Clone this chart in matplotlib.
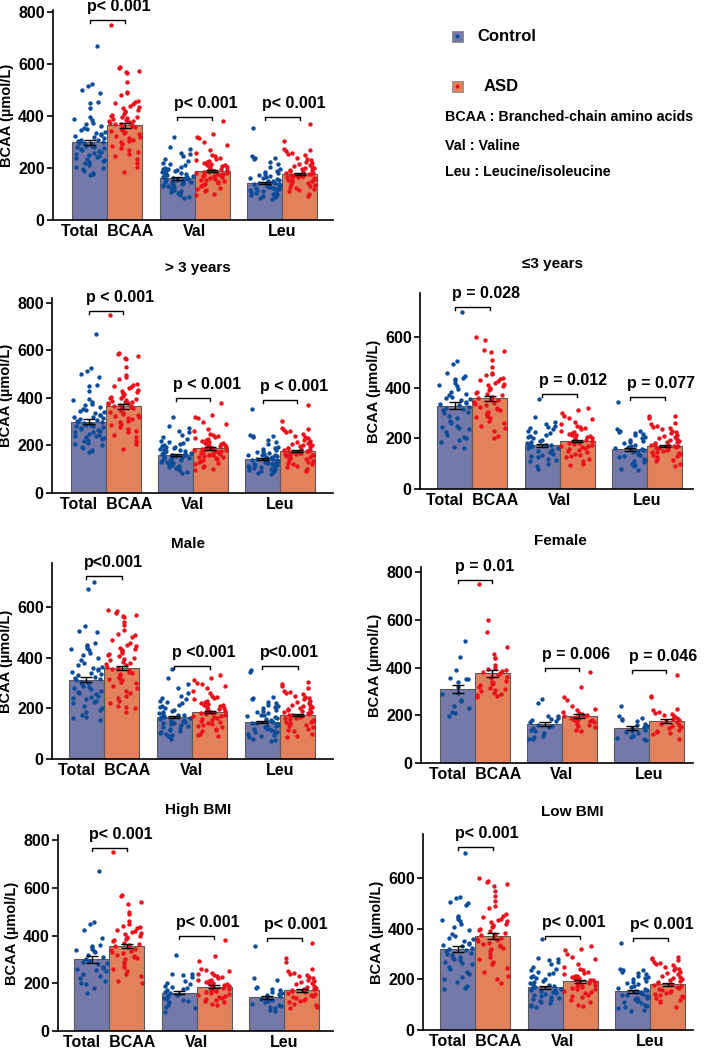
import math
import matplotlib
matplotlib.use('Agg')
import matplotlib.pyplot as plt
from matplotlib.patches import Rectangle, Circle

plt.rcParams['font.family'] = ['Liberation Sans', 'DejaVu Sans']
plt.rcParams['font.weight'] = 'bold'

W, H = 708, 1055

# ---------------- data ----------------
categories = ['Total  BCAA', 'Val', 'Leu']
groups = ['Control', 'ASD']

# overall (also shown as "> 3 years")
overall_ctrl_mean = [300, 160, 142]
overall_asd_mean = [365, 188, 177]
overall_ctrl_sem = [10, 5, 5]
overall_asd_sem = [10, 5, 5]
overall_ctrl_total = [670, 525, 515, 500, 490, 455, 452, 430, 395, 390, 385, 375, 370, 362, 355, 350, 345, 340,
                      335, 330, 328, 322, 318, 315, 310, 308, 305, 300, 298, 295, 292, 290, 287, 285, 282, 280,
                      276, 272, 268, 265, 262, 258, 255, 250, 246, 242, 238, 234, 230, 226, 222, 218, 212, 206,
                      200, 195, 188, 182, 176, 172]
overall_asd_total = [750, 590, 585, 575, 570, 565, 530, 495, 490, 480, 460, 455, 450, 445, 440, 435, 430, 425,
                     420, 415, 410, 405, 400, 398, 395, 392, 388, 385, 382, 380, 377, 374, 371, 368, 365, 362,
                     359, 356, 353, 350, 346, 342, 338, 334, 330, 325, 320, 315, 310, 305, 300, 292, 285, 278,
                     270, 262, 255, 245, 235, 220, 205, 185]
overall_ctrl_val = [320, 280, 275, 260, 255, 245, 235, 228, 220, 215, 210, 205, 200, 198, 195, 192, 190, 188,
                    185, 182, 180, 178, 175, 172, 170, 168, 166, 164, 162, 160, 158, 156, 154, 152, 150, 148,
                    146, 144, 142, 140, 138, 135, 132, 130, 127, 124, 120, 116, 112, 108, 104, 100, 95, 90, 85]
overall_asd_val = [380, 330, 320, 315, 300, 290, 270, 260, 250, 245, 240, 235, 230, 226, 222, 218, 215, 212,
                   210, 208, 205, 203, 200, 198, 196, 194, 192, 190, 188, 186, 184, 182, 180, 178, 176, 174,
                   172, 170, 168, 165, 162, 159, 156, 153, 150, 146, 142, 138, 134, 130, 125, 120, 115, 110,
                   100, 95]
overall_ctrl_leu = [355, 245, 240, 240, 235, 225, 215, 205, 195, 190, 185, 180, 176, 172, 168, 165, 162, 160,
                    158, 155, 152, 150, 148, 146, 144, 142, 140, 138, 136, 134, 132, 130, 128, 126, 124, 122,
                    120, 118, 116, 114, 112, 110, 108, 105, 102, 100, 97, 94, 91, 88, 85, 82]
overall_asd_leu = [370, 305, 275, 270, 265, 260, 255, 250, 240, 235, 230, 225, 220, 215, 212, 208, 205, 202,
                   200, 197, 194, 191, 188, 185, 182, 180, 178, 176, 174, 172, 170, 168, 166, 164, 162, 160,
                   158, 155, 152, 149, 146, 143, 140, 136, 132, 128, 124, 120, 115, 110, 100, 92]
overall_pvals = ['p< 0.001', 'p< 0.001', 'p< 0.001']
over3_pvals = ['p < 0.001', 'p < 0.001', 'p < 0.001']

# <= 3 years
young_ctrl_mean = [328, 172, 157]
young_asd_mean = [358, 190, 170]
young_ctrl_sem = [14, 7, 6]
young_asd_sem = [10, 5, 5]
young_ctrl_total = [700, 505, 495, 460, 445, 440, 435, 430, 420, 410, 405, 395, 385, 375, 370, 365, 360, 355,
                    350, 345, 340, 335, 330, 325, 320, 315, 310, 305, 300, 290, 280, 270, 260, 250, 245, 240,
                    235, 225, 215, 205, 200, 195, 185, 165, 160]
young_asd_total = [600, 590, 550, 545, 540, 510, 480, 460, 455, 450, 440, 435, 430, 425, 420, 415, 410, 405,
                   400, 395, 390, 385, 380, 375, 370, 365, 360, 355, 350, 345, 340, 335, 330, 325, 320, 315,
                   310, 305, 300, 295, 290, 285, 280, 270, 260, 250, 240, 230, 210, 200]
young_ctrl_val = [355, 285, 265, 255, 250, 245, 240, 235, 230, 225, 220, 215, 210, 205, 200, 195, 190, 185,
                  180, 178, 175, 172, 170, 168, 165, 162, 160, 155, 150, 145, 140, 135, 130, 125, 120, 115,
                  110, 100, 90, 80]
young_asd_val = [320, 310, 300, 290, 280, 275, 265, 255, 250, 245, 240, 235, 230, 225, 222, 218, 215, 212,
                 210, 206, 202, 200, 198, 195, 192, 190, 188, 185, 182, 180, 177, 174, 171, 168, 165, 162,
                 158, 155, 150, 145, 140, 135, 130, 125, 120, 110, 100, 95]
young_ctrl_leu = [345, 235, 230, 228, 225, 222, 218, 212, 205, 200, 195, 190, 185, 180, 175, 170, 165, 162,
                  158, 155, 152, 150, 145, 140, 135, 130, 125, 120, 115, 110, 105, 100, 95, 90, 80, 75]
young_asd_leu = [290, 288, 280, 260, 255, 250, 245, 240, 235, 230, 225, 220, 215, 210, 205, 200, 197, 194,
                 190, 187, 184, 181, 178, 175, 172, 170, 168, 165, 162, 160, 157, 154, 151, 148, 145, 142,
                 138, 134, 130, 125, 120, 115, 110, 100, 90]
young_pvals = ['p = 0.028', 'p = 0.012', 'p = 0.077']

# Male
male_ctrl_mean = [313, 165, 147]
male_asd_mean = [358, 185, 172]
male_ctrl_sem = [9, 4, 4]
male_asd_sem = [8, 4, 4]
male_ctrl_total = [700, 670, 525, 505, 500, 460, 450, 445, 440, 435, 430, 420, 410, 400, 390, 380, 370, 365,
                   360, 355, 350, 345, 340, 335, 330, 325, 320, 315, 310, 305, 300, 295, 290, 285, 280, 275,
                   270, 265, 260, 255, 250, 245, 240, 235, 230, 225, 220, 210, 200, 195, 185, 175, 165, 160, 155]
male_asd_total = [590, 585, 575, 570, 565, 560, 540, 530, 510, 495, 490, 480, 470, 460, 450, 445, 440, 435,
                  430, 425, 420, 415, 410, 405, 400, 395, 390, 385, 380, 375, 370, 365, 360, 355, 350, 345,
                  340, 335, 330, 325, 320, 315, 310, 305, 300, 290, 280, 270, 260, 250, 240, 230, 220, 210,
                  205, 200, 185]
male_ctrl_val = [355, 320, 295, 280, 260, 250, 240, 235, 230, 225, 220, 215, 210, 205, 200, 195, 190, 185,
                 182, 178, 175, 172, 170, 167, 164, 161, 158, 155, 152, 150, 147, 144, 141, 138, 135, 132,
                 128, 124, 120, 116, 112, 108, 104, 100, 95, 90, 85, 80]
male_asd_val = [330, 320, 310, 300, 295, 290, 280, 270, 260, 250, 245, 240, 235, 230, 225, 222, 218, 215,
                212, 208, 205, 202, 200, 197, 194, 191, 188, 185, 182, 180, 177, 174, 171, 168, 165, 162,
                158, 154, 150, 146, 142, 138, 134, 130, 125, 120, 115, 110, 100, 95, 90]
male_ctrl_leu = [350, 345, 245, 240, 235, 225, 220, 215, 210, 205, 200, 195, 190, 185, 180, 175, 172, 168,
                 165, 162, 158, 155, 152, 150, 147, 144, 141, 138, 135, 132, 129, 126, 123, 120, 117, 114,
                 111, 108, 105, 100, 95, 90, 85, 80, 75, 70]
male_asd_leu = [305, 295, 290, 280, 270, 265, 260, 255, 250, 245, 240, 235, 230, 225, 220, 215, 212, 208,
                205, 202, 199, 196, 193, 190, 187, 184, 181, 178, 175, 172, 169, 166, 163, 160, 157, 154,
                151, 148, 145, 142, 138, 134, 130, 125, 120, 115, 110, 100, 90, 85]
male_pvals = ['p<0.001', 'p <0.001', 'p<0.001']

# Female
female_ctrl_mean = [310, 163, 147]
female_asd_mean = [375, 198, 176]
female_ctrl_sem = [18, 10, 8]
female_asd_sem = [16, 9, 9]
female_ctrl_total = [510, 445, 390, 355, 350, 350, 340, 320, 295, 290, 265, 260, 240, 230, 215, 210, 195]
female_asd_total = [750, 600, 550, 485, 455, 440, 440, 410, 400, 395, 390, 385, 380, 375, 370, 360, 355, 345,
                    340, 335, 330, 325, 320, 315, 310, 305, 300, 295, 290, 285, 280, 275]
female_ctrl_val = [270, 250, 195, 195, 190, 185, 180, 175, 170, 160, 155, 150, 145, 140, 135, 125, 115, 110,
                   100, 100]
female_asd_val = [380, 320, 275, 265, 240, 225, 220, 215, 210, 205, 200, 198, 195, 192, 190, 188, 185, 182,
                  180, 178, 175, 170, 165, 160, 155, 150, 140, 135]
female_ctrl_leu = [240, 195, 190, 185, 180, 175, 165, 160, 155, 150, 145, 140, 135, 130, 125, 115, 110, 105,
                   100, 95]
female_asd_leu = [370, 280, 275, 225, 220, 215, 210, 205, 200, 195, 190, 185, 180, 175, 170, 165, 160, 155,
                  150, 145, 140, 135, 130, 125, 120, 100]
female_pvals = ['p = 0.01', 'p = 0.006', 'p = 0.046']

# High BMI
hbmi_ctrl_mean = [300, 160, 141]
hbmi_asd_mean = [357, 186, 170]
hbmi_ctrl_sem = [15, 7, 7]
hbmi_asd_sem = [9, 5, 5]
hbmi_ctrl_total = [670, 455, 450, 425, 390, 360, 355, 350, 345, 340, 335, 330, 320, 310, 300, 295, 290, 285,
                   280, 270, 265, 260, 255, 250, 240, 230, 220, 210, 200, 195, 180, 160]
hbmi_asd_total = [750, 570, 565, 540, 530, 500, 490, 460, 450, 440, 435, 430, 425, 420, 415, 410, 405, 400,
                  395, 390, 385, 380, 375, 370, 365, 360, 355, 350, 345, 340, 335, 330, 325, 320, 315, 310,
                  305, 300, 290, 280, 270, 260, 250, 240, 230, 210, 200]
hbmi_ctrl_val = [320, 240, 238, 235, 225, 210, 200, 195, 190, 185, 180, 175, 170, 165, 160, 155, 150, 145,
                 140, 135, 130, 125, 120, 110, 100, 95, 80]
hbmi_asd_val = [380, 315, 295, 260, 255, 250, 245, 240, 235, 230, 225, 220, 215, 212, 208, 205, 202, 199,
                196, 193, 190, 187, 184, 181, 178, 175, 172, 169, 166, 163, 160, 156, 152, 148, 144, 140,
                135, 130, 125, 120, 115, 110]
hbmi_ctrl_leu = [355, 220, 215, 185, 180, 175, 170, 165, 160, 155, 150, 145, 140, 135, 130, 125, 120, 115,
                 110, 105, 100, 95, 90, 85]
hbmi_asd_leu = [370, 305, 290, 260, 250, 245, 240, 235, 230, 225, 220, 215, 210, 205, 200, 195, 190, 186,
                182, 178, 174, 170, 166, 162, 158, 154, 150, 146, 142, 138, 134, 130, 125, 120, 115, 110,
                100, 95]
hbmi_pvals = ['p< 0.001', 'p< 0.001', 'p< 0.001']

# Low BMI
lbmi_ctrl_mean = [320, 168, 153]
lbmi_asd_mean = [372, 193, 180]
lbmi_ctrl_sem = [11, 5, 5]
lbmi_asd_sem = [11, 6, 5]
lbmi_ctrl_total = [700, 525, 520, 505, 500, 495, 450, 445, 440, 435, 430, 420, 405, 395, 380, 370, 365, 360,
                   350, 345, 340, 335, 330, 325, 320, 315, 310, 305, 300, 295, 290, 285, 280, 275, 270, 265,
                   260, 250, 240, 230, 220, 210, 200, 190, 175, 165, 160]
lbmi_asd_total = [600, 590, 585, 575, 570, 550, 530, 510, 490, 480, 460, 450, 445, 440, 435, 430, 425, 420,
                  415, 410, 405, 400, 395, 390, 385, 380, 375, 370, 365, 360, 355, 350, 345, 340, 335, 330,
                  325, 320, 310, 300, 290, 280, 270, 260, 245, 230, 215, 200, 185]
lbmi_ctrl_val = [360, 285, 280, 275, 270, 260, 250, 240, 235, 230, 225, 220, 215, 210, 205, 200, 195, 190,
                 185, 180, 177, 174, 171, 168, 165, 162, 159, 156, 153, 150, 147, 144, 140, 136, 132, 128,
                 124, 120, 115, 110, 105, 100, 95, 90]
lbmi_asd_val = [330, 320, 315, 300, 290, 280, 260, 250, 240, 235, 230, 225, 220, 215, 212, 208, 205, 202,
                199, 196, 193, 190, 187, 184, 181, 178, 175, 172, 169, 166, 163, 160, 155, 150, 145, 140,
                135, 130, 120, 110, 100, 95]
lbmi_ctrl_leu = [345, 240, 238, 235, 230, 225, 220, 215, 210, 205, 200, 195, 190, 185, 180, 175, 170, 165,
                 162, 158, 155, 152, 149, 146, 143, 140, 137, 134, 131, 128, 125, 122, 119, 115, 110, 105,
                 100, 95, 90, 85, 80, 75]
lbmi_asd_leu = [290, 285, 280, 275, 270, 265, 260, 255, 250, 245, 240, 235, 230, 225, 220, 215, 210, 206,
                202, 198, 194, 190, 186, 182, 178, 174, 170, 166, 162, 158, 154, 150, 146, 142, 138, 134,
                130, 125, 120, 115, 110, 90]
lbmi_pvals = ['p< 0.001', 'p< 0.001', 'p< 0.001']

panel_titles = ['', '> 3 years', '\u22643 years', 'Male', 'Female', 'High BMI', 'Low BMI']

# ---------------- style ----------------
CTRL_BAR = '#7479a9'
ASD_BAR = '#e2825d'
CTRL_DOT = '#0d4c98'
ASD_DOT = '#e8111c'
EDGE = '#5a5a5a'
BW = 0.4

fig = plt.figure(figsize=(W / 100, H / 100), dpi=100)

# layout: left, right, top, bottom (px), ymax, group-0 centre px, group spacing px,
#         bracket heights, yticks, title position (px)
layouts = [
    (53, 333, 10, 220, 809, 107, 87.5, [770, 397, 397], [0, 200, 400, 600, 800], None),
    (52, 333, 298, 493, 821, 106, 87.0, [766, 400, 392], [0, 200, 400, 600, 800], (198, 268)),
    (420, 693, 293, 489, 774, 472, 87.5, [718, 375, 363], [0, 200, 400, 600], (553, 264)),
    (52, 333, 563, 759, 774, 104, 88.0, [722, 367, 367], [0, 200, 400, 600], (188, 544)),
    (421, 693, 567, 763, 821, 475, 87.0, [766, 398, 389], [0, 200, 400, 600, 800], (560, 541)),
    (58, 333, 835, 1031, 821, 109, 87.5, [766, 398, 389], [0, 200, 400, 600, 800], (198, 810)),
    (423, 693, 834, 1030, 774, 475, 87.5, [722, 371, 363], [0, 200, 400, 600], (572, 812)),
]

panels = [
    (overall_ctrl_mean, overall_asd_mean, overall_ctrl_sem, overall_asd_sem,
     [overall_ctrl_total, overall_ctrl_val, overall_ctrl_leu],
     [overall_asd_total, overall_asd_val, overall_asd_leu], overall_pvals),
    (overall_ctrl_mean, overall_asd_mean, overall_ctrl_sem, overall_asd_sem,
     [overall_ctrl_total, overall_ctrl_val, overall_ctrl_leu],
     [overall_asd_total, overall_asd_val, overall_asd_leu], over3_pvals),
    (young_ctrl_mean, young_asd_mean, young_ctrl_sem, young_asd_sem,
     [young_ctrl_total, young_ctrl_val, young_ctrl_leu],
     [young_asd_total, young_asd_val, young_asd_leu], young_pvals),
    (male_ctrl_mean, male_asd_mean, male_ctrl_sem, male_asd_sem,
     [male_ctrl_total, male_ctrl_val, male_ctrl_leu],
     [male_asd_total, male_asd_val, male_asd_leu], male_pvals),
    (female_ctrl_mean, female_asd_mean, female_ctrl_sem, female_asd_sem,
     [female_ctrl_total, female_ctrl_val, female_ctrl_leu],
     [female_asd_total, female_asd_val, female_asd_leu], female_pvals),
    (hbmi_ctrl_mean, hbmi_asd_mean, hbmi_ctrl_sem, hbmi_asd_sem,
     [hbmi_ctrl_total, hbmi_ctrl_val, hbmi_ctrl_leu],
     [hbmi_asd_total, hbmi_asd_val, hbmi_asd_leu], hbmi_pvals),
    (lbmi_ctrl_mean, lbmi_asd_mean, lbmi_ctrl_sem, lbmi_asd_sem,
     [lbmi_ctrl_total, lbmi_ctrl_val, lbmi_ctrl_leu],
     [lbmi_asd_total, lbmi_asd_val, lbmi_asd_leu], lbmi_pvals),
]


def jitter(n, width, seed):
    # deterministic, hash-like horizontal spread of dots across the bar width (position only)
    out = []
    for i in range(n):
        v = math.sin((i + 1) * 12.9898 + seed * 78.233) * 43758.5453
        out.append((v - math.floor(v) - 0.5) * width)
    return out


for idx, (lay, pan, title) in enumerate(zip(layouts, panels, panel_titles)):
    left, right, top, bottom, ymax, c0, sp, brk, yticks, tpos = lay
    cm, am, cs, as_, cpts, apts, pv = pan
    ax = fig.add_axes([left / W, 1 - bottom / H, (right - left) / W, (bottom - top) / H])
    ax.set_xlim((left - c0) / sp, (right - c0) / sp)
    ax.set_ylim(0, ymax)
    xs = list(range(len(categories)))
    xc = [x - BW / 2 for x in xs]
    xa = [x + BW / 2 for x in xs]
    ax.bar(xc, cm, width=BW, color=CTRL_BAR, edgecolor=EDGE, linewidth=0.8, zorder=1)
    ax.bar(xa, am, width=BW, color=ASD_BAR, edgecolor=EDGE, linewidth=0.8, zorder=1)
    for k in range(len(categories)):
        jc = jitter(len(cpts[k]), 0.37, k * 2 + 1)
        ja = jitter(len(apts[k]), 0.37, k * 2 + 2)
        ax.scatter([xc[k] + j for j in jc], cpts[k], s=10, color=CTRL_DOT, linewidths=0, zorder=2)
        ax.scatter([xa[k] + j for j in ja], apts[k], s=10, color=ASD_DOT, linewidths=0, zorder=2)
    ax.errorbar(xc, cm, yerr=cs, fmt='none', ecolor='black', elinewidth=1, capsize=4, capthick=1, zorder=3)
    ax.errorbar(xa, am, yerr=as_, fmt='none', ecolor='black', elinewidth=1, capsize=4, capthick=1, zorder=3)
    # significance brackets
    tick = ymax * 0.016
    for k in range(len(categories)):
        h = brk[k]
        ax.plot([xc[k], xc[k], xa[k], xa[k]], [h - tick, h, h, h - tick], color='black', lw=1,
                zorder=4, clip_on=False)
        ax.text(xc[k] - 0.03, h + ymax * 0.03, pv[k], ha='left', va='bottom', fontsize=11.5,
                fontweight='bold', clip_on=False)
    ax.spines['top'].set_visible(False)
    ax.spines['right'].set_visible(False)
    ax.spines['left'].set_linewidth(1.2)
    ax.spines['bottom'].set_linewidth(1.2)
    ax.set_yticks(yticks)
    ax.set_xticks(xs)
    ax.set_xticklabels(categories)
    ax.tick_params(axis='x', length=0, pad=3, labelsize=11.5)
    ax.tick_params(axis='y', length=4, width=1.2, pad=2, labelsize=11.5)
    for lab in ax.get_xticklabels() + ax.get_yticklabels():
        lab.set_fontweight('bold')
    ax.set_ylabel('BCAA (\u00b5mol/L)', fontsize=10.5, fontweight='bold', labelpad=3)
    if title and tpos:
        fig.text(tpos[0] / W, 1 - tpos[1] / H, title, ha='center', va='center',
                 fontsize=11, fontweight='bold')

# ---------------- legend / key ----------------
lax = fig.add_axes([0, 0, 1, 1])
lax.set_xlim(0, W)
lax.set_ylim(H, 0)
lax.axis('off')
for (y0, fc, dc, lab, tx) in [(31, CTRL_BAR, CTRL_DOT, groups[0], 477), (81, ASD_BAR, ASD_DOT, groups[1], 484)]:
    lax.add_patch(Rectangle((452, y0), 11, 11, facecolor=fc, edgecolor='#888888', linewidth=0.6))
    lax.add_patch(Circle((457.5, y0 + 5.5), 1.3, color=dc))
    lax.text(tx, y0 + 5.5, lab, ha='left', va='center', fontsize=12, fontweight='bold')
key_lines = ['BCAA : Branched-chain amino acids', 'Val : Valine', 'Leu : Leucine/isoleucine']
for yy, t in zip([117, 146, 172], key_lines):
    lax.text(445, yy, t, ha='left', va='center', fontsize=10.3, fontweight='bold')

fig.savefig('out.png', dpi=100)
